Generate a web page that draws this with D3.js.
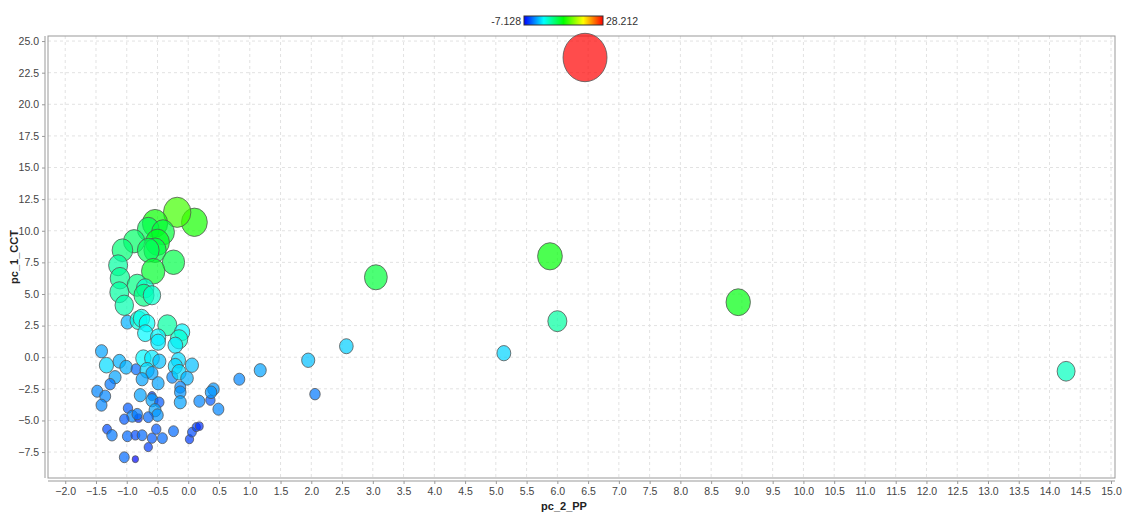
<!DOCTYPE html>
<html>
<head>
<meta charset="utf-8">
<script src="https://d3js.org/d3.v7.min.js"></script>
<style>
  body { margin: 0; background: #fff; }
  text { font-family: "Liberation Sans", Arial, sans-serif; }
  .grid line { stroke: #e2e2e2; stroke-dasharray: 3,3; }
  .tick text { fill: #444; font-size: 10.5px; }
  .axisTitle { font-size: 11px; font-weight: bold; fill: #222; }
</style>
</head>
<body>
<svg id="chart" width="1123" height="515"></svg>
<script>
// pc_2_PP (x), pc_1_CCT (y), colour/size value (z)
const pcPP = [6.45, 0.10, -0.18, 5.88, 3.05, 8.94, 6.00, 14.27, 5.13, 2.57, 1.95, 2.06, 1.17, 0.83,
  -0.54, -0.65, -0.41, -0.50, -0.88, -0.54, -0.65, -1.07, -0.24, -1.14, -0.57, -1.11, -0.83, -0.70,
  -1.12, -0.72, -0.59, -1.04, -0.99, -0.81, -0.76, -0.67, -0.34, -0.10, -0.70, -0.49, -0.15, -0.49,
  -0.21, -1.41, -1.33, -1.12, -1.01, -0.85, -0.73, -0.59, -0.47, -0.67, -0.59, -0.75, -0.49, -0.16,
  -0.21, -0.26, -0.15, -0.02, 0.06, -0.13, -0.13, -0.13, -1.19, -1.27, -1.48, -1.35, -1.41, -0.78,
  -0.59, -0.59, -0.47, -0.54, -0.50, -0.98, -0.91, -0.81, -0.83, -0.65, -1.04, 0.18, 0.36, 0.41,
  0.37, 0.49, -1.32, -1.24, -0.99, -0.86, -0.75, -0.59, -0.52, -0.42, -0.24, -0.65, -1.04, -0.86,
  0.02, 0.06, 0.13, 0.18];
const pcCCT = [23.70, 10.67, 11.46, 7.98, 6.32, 4.35, 2.85, -1.11, 0.32, 0.87, -0.24, -2.92, -1.03, -1.74,
  10.59, 10.12, 9.88, 9.09, 9.17, 8.46, 8.46, 8.46, 7.51, 7.27, 6.80, 6.25, 5.69, 5.45,
  5.14, 4.90, 4.90, 4.11, 2.77, 2.92, 3.08, 2.69, 2.53, 1.98, 1.90, 1.58, 1.42, 1.19,
  0.95, 0.47, -0.63, -0.32, -0.79, -0.95, -0.08, -0.08, -0.32, -1.03, -1.26, -1.74, -2.06, -0.24,
  -0.71, -1.58, -1.19, -1.66, -0.63, -2.37, -2.77, -3.56, -1.58, -2.13, -2.69, -3.08, -3.79, -3.00,
  -3.08, -3.40, -3.56, -4.19, -4.58, -4.03, -4.66, -4.82, -4.50, -4.74, -4.90, -3.48, -3.40, -2.53,
  -2.77, -4.11, -5.69, -6.17, -6.25, -6.17, -6.17, -6.40, -5.69, -6.40, -5.85, -7.11, -7.91, -8.06,
  -6.48, -5.93, -5.53, -5.45];
const zValue = [28.2, 11.3, 12.8, 10.3, 8.5, 10.0, 5.0, 4.0, 0.2, 0.0, -0.5, -3.0, -1.5, -2.5,
  10.8, 7.5, 8.5, 9.5, 7.0, 8.0, 7.5, 6.5, 8.0, 5.0, 9.0, 5.5, 6.0, 3.5,
  5.0, 6.0, 3.5, 4.5, -1.0, 3.0, 2.5, 2.0, 5.0, 1.5, 1.5, 1.5, 3.5, 1.0,
  1.0, -1.5, 0.5, -1.0, -1.0, -3.5, 1.5, 1.0, -0.5, 0.5, -1.5, -1.5, -1.5, 0.5,
  0.5, -2.5, 0.5, -1.0, -0.5, -2.5, -2.0, -1.5, -1.5, -3.0, -2.5, -2.5, -2.5, -1.5,
  -5.0, -1.5, -4.0, -1.5, -2.0, -4.0, -2.5, -5.5, -3.0, -3.5, -4.0, -2.5, -4.0, -2.0,
  -2.0, -2.5, -4.5, -3.0, -3.5, -4.5, -3.5, -4.0, -4.0, -3.5, -3.5, -5.0, -3.5, -6.8,
  -5.0, -4.5, -5.0, -5.5];

const xTicks = d3.range(-2, 15.01, 0.5);
const yTicks = d3.range(-7.5, 25.01, 2.5);
const zMin = -7.128, zMax = 28.212;

const points = pcPP.map((d, i) => ({x: d, y: pcCCT[i], z: zValue[i]}));

const svg = d3.select("svg#chart");
const plot = {left: 48, right: 1115, top: 36, bottom: 478};

const x = d3.scaleLinear().domain([-2.28, 15.065]).range([plot.left, plot.right]);
const y = d3.scaleLinear().domain([-9.55, 25.4]).range([plot.bottom, plot.top]);

// blue -> cyan -> green -> yellow -> red
const zStops = d3.range(5).map(i => zMin + i * (zMax - zMin) / 4);
const color = d3.scaleLinear().domain(zStops)
                .range(["#0000ff", "#00ffff", "#00ff00", "#ffff00", "#ff0000"]);
const radius = d3.scaleLinear().domain([zMin, zMax]).range([3, 22]);

// gridlines
const grid = svg.append("g").attr("class", "grid");
grid.selectAll("line.v").data(xTicks).join("line")
    .attr("class", "v")
    .attr("x1", d => x(d)).attr("x2", d => x(d))
    .attr("y1", plot.top).attr("y2", plot.bottom);
grid.selectAll("line.h").data(yTicks).join("line")
    .attr("class", "h")
    .attr("x1", plot.left).attr("x2", plot.right)
    .attr("y1", d => y(d)).attr("y2", d => y(d));

// plot border
svg.append("rect")
   .attr("x", plot.left).attr("y", plot.top)
   .attr("width", plot.right - plot.left).attr("height", plot.bottom - plot.top)
   .attr("fill", "none").attr("stroke", "#999");

// bubbles
svg.append("g").selectAll("ellipse").data(points).join("ellipse")
   .attr("cx", d => x(d.x))
   .attr("cy", d => y(d.y))
   .attr("rx", d => radius(d.z))
   .attr("ry", d => radius(d.z) * 1.1)
   .attr("fill", d => color(d.z))
   .attr("fill-opacity", 0.7)
   .attr("stroke", "#555")
   .attr("stroke-opacity", 0.8)
   .attr("stroke-width", 1);

// axes
const fmt = d3.format(".1f");
const xAxis = svg.append("g")
   .attr("transform", `translate(0,${plot.bottom + 3})`)
   .call(d3.axisBottom(x).tickValues(xTicks).tickFormat(fmt).tickSizeOuter(0).tickSize(3).tickPadding(4));
const yAxis = svg.append("g")
   .attr("transform", `translate(${plot.left - 3},0)`)
   .call(d3.axisLeft(y).tickValues(yTicks).tickFormat(fmt).tickSizeOuter(0).tickSize(3).tickPadding(3));
[xAxis, yAxis].forEach(a => {
  a.selectAll(".domain").attr("stroke", "#999");
  a.selectAll(".tick line").attr("stroke", "#999");
  a.selectAll(".tick text").style("font-family", null);
});
xAxis.select(".domain").attr("d", `M${plot.left},0H${plot.right}`);
yAxis.select(".domain").attr("d", `M0,${plot.top}V${plot.bottom}`);

svg.append("text").attr("class", "axisTitle")
   .attr("x", 564).attr("y", 510).attr("text-anchor", "middle")
   .text("pc_2_PP");
svg.append("text").attr("class", "axisTitle")
   .attr("transform", "translate(18,257) rotate(-90)")
   .attr("text-anchor", "middle")
   .text("pc_1_CCT");

// colour legend
const defs = svg.append("defs");
const grad = defs.append("linearGradient").attr("id", "zgrad");
grad.selectAll("stop").data(zStops).join("stop")
    .attr("offset", (d, i) => `${i * 25}%`)
    .attr("stop-color", d => color(d));
const legX = d3.scaleLinear().domain([zMin, zMax]).range([524, 603]);
svg.append("rect")
   .attr("x", legX(zMin)).attr("y", 16)
   .attr("width", legX(zMax) - legX(zMin)).attr("height", 9)
   .attr("fill", "url(#zgrad)").attr("stroke", "#333");
svg.append("text").attr("x", legX(zMin) - 3).attr("y", 24.5)
   .attr("text-anchor", "end").attr("font-size", "10.5px").attr("fill", "#333")
   .text(zMin.toFixed(3));
svg.append("text").attr("x", legX(zMax) + 3).attr("y", 24.5)
   .attr("font-size", "10.5px").attr("fill", "#333")
   .text(zMax.toFixed(3));
</script>
</body>
</html>
